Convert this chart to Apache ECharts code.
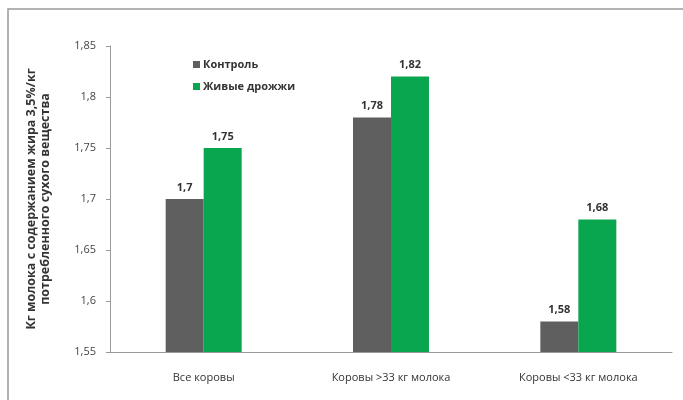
<!DOCTYPE html>
<html>
<head>
<meta charset="utf-8">
<script src="https://cdn.jsdelivr.net/npm/echarts@6/dist/echarts.min.js"></script>
<style>
  html, body { margin: 0; padding: 0; background: #fff; }
  #chart { width: 683px; height: 400px; }
</style>
</head>
<body>
<div id="chart"></div>
<script>
var categories = ['Все коровы', 'Коровы >33 кг молока', 'Коровы <33 кг молока']
var seriesNames = ['Контроль', 'Живые дрожжи']
var control = [1.70, 1.78, 1.58]
var yeast = [1.75, 1.82, 1.68]
var yName = 'Кг молока с содержанием жира 3,5%/кг\nпотребленного сухого вещества'

function comma (v) {
  return String(v).replace('.', ',')
}

var chart = echarts.init(document.getElementById('chart'))

var labelStyle = {
  show: true,
  position: 'top',
  distance: 6,
  color: '#333',
  fontSize: 11,
  fontWeight: 'bold',
  fontFamily: 'Open Sans',
  formatter: function (p) { return comma(p.value) }
}

var option = {
  backgroundColor: '#fff',
  animation: false,
  textStyle: { fontFamily: 'Open Sans' },
  graphic: [{
    type: 'polyline',
    shape: { points: [[8, 400], [8, 9], [683, 9]] },
    style: { stroke: '#9a9a9a', lineWidth: 1.5, fill: null }
  }],
  legend: {
    orient: 'vertical',
    left: 188,
    top: 54,
    itemWidth: 7,
    itemHeight: 7,
    itemGap: 11,
    icon: 'rect',
    data: seriesNames,
    textStyle: { color: '#333', fontSize: 11, fontWeight: 'bold', padding: [0, 0, 0, -2] }
  },
  grid: { left: 110, right: 11, top: 46, bottom: 48 },
  xAxis: {
    type: 'category',
    data: categories,
    axisLine: { lineStyle: { color: '#999', width: 1 } },
    axisTick: { show: false },
    axisLabel: { color: '#333', fontSize: 11, margin: 20 }
  },
  yAxis: {
    type: 'value',
    min: 1.55,
    max: 1.85,
    interval: 0.05,
    name: yName,
    nameLocation: 'middle',
    nameGap: 58,
    nameRotate: 90,
    nameTextStyle: { color: '#333', fontSize: 12.5, fontWeight: 'bold', lineHeight: 14 },
    axisLine: { show: true, lineStyle: { color: '#999', width: 1 } },
    axisTick: { show: true, length: 4, lineStyle: { color: '#999' } },
    splitLine: { show: false },
    axisLabel: {
      color: '#444',
      fontSize: 11,
      margin: 14,
      formatter: function (v) { return comma(+v.toFixed(2)) }
    }
  },
  series: [{
    name: seriesNames[0],
    type: 'bar',
    data: control,
    barWidth: 38,
    barGap: '0%',
    itemStyle: { color: '#5f5f5f' },
    label: labelStyle
  }, {
    name: seriesNames[1],
    type: 'bar',
    data: yeast,
    barWidth: 38,
    barGap: '0%',
    itemStyle: { color: '#0aa64f' },
    label: labelStyle
  }]
}

chart.setOption(option)
</script>
</body>
</html>
